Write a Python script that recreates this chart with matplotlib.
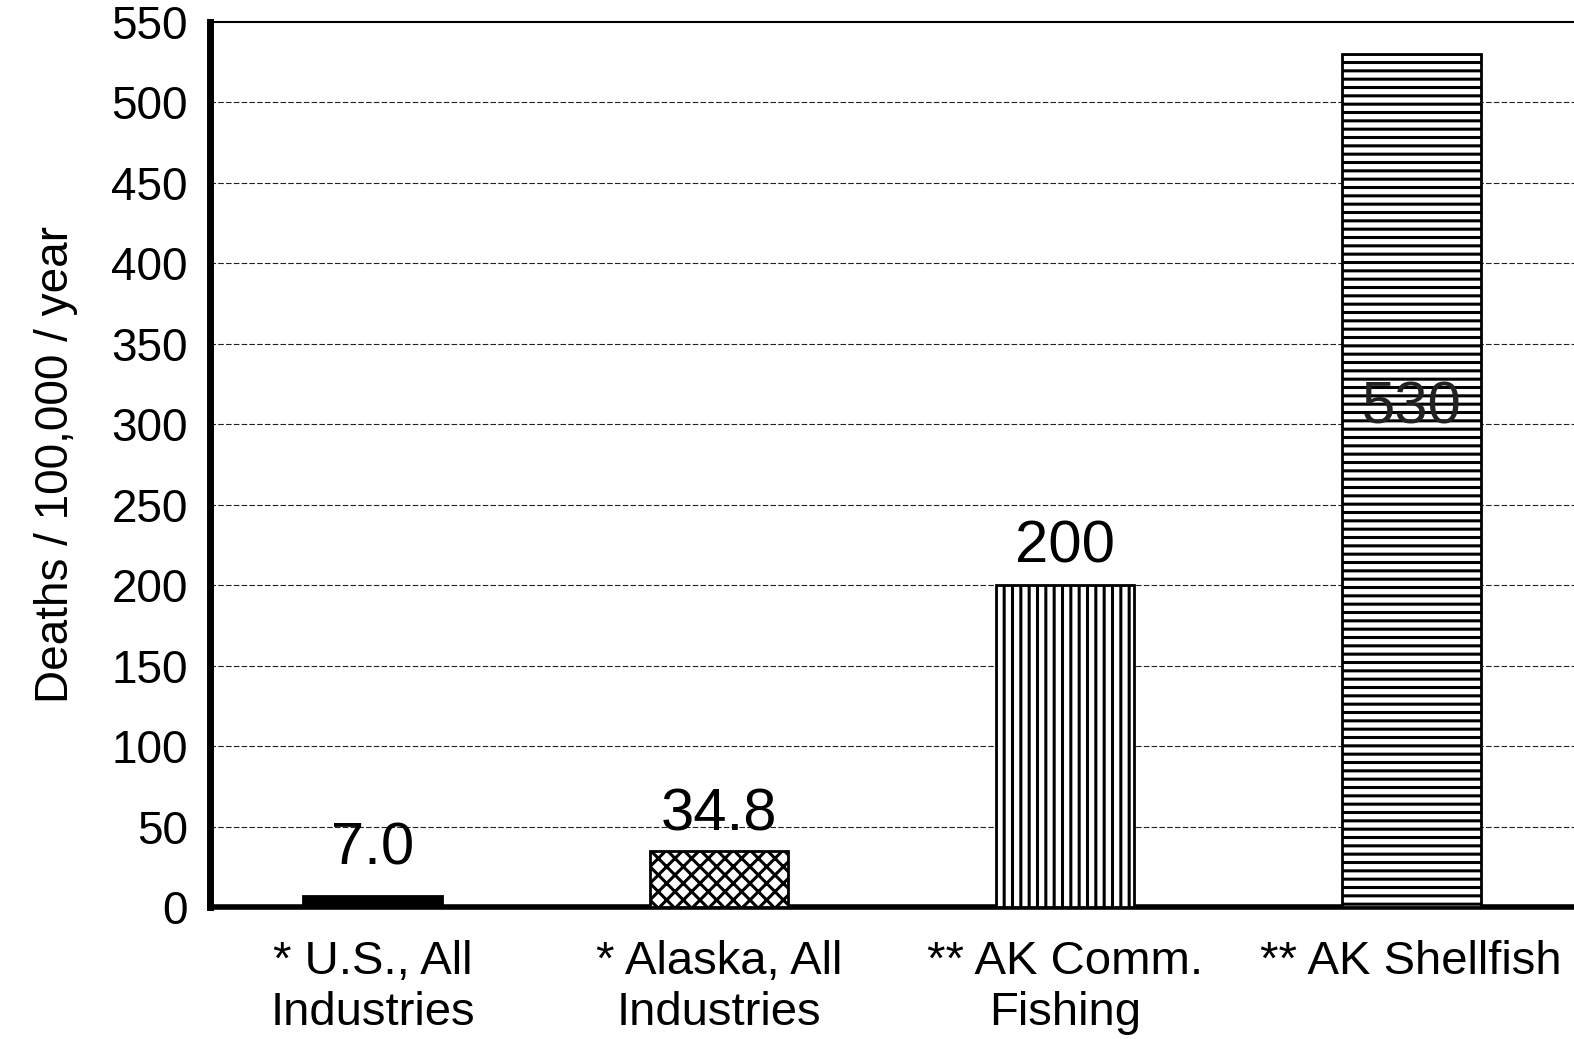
import numpy as np
import matplotlib
matplotlib.use("Agg")
from matplotlib import pyplot as plt

categories = ["* U.S., All\nIndustries", "* Alaska, All\nIndustries",
              "** AK Comm.\nFishing", "** AK Shellfish"]
rates = [7.0, 34.8, 200, 530]
value_labels = ["7.0", "34.8", "200", "530"]
hatches = ["", "xx", "||", "--"]
fills = ["black", "white", "white", "white"]
yticks = np.arange(0, 551, 50)

plt.rcParams['font.family'] = ['Liberation Sans', 'DejaVu Sans']
plt.rcParams['hatch.linewidth'] = 2.2

fig = plt.figure(figsize=(15.74, 10.39), dpi=100)
ax = fig.add_axes([0.1334, 0.127, 0.8666, 0.852])

x = np.arange(len(categories))
ax.bar(x, rates, width=0.4, color=fills, hatch=hatches, edgecolor="black",
       linewidth=2, zorder=3)

for ytick in yticks[1:-1]:
    ax.axhline(ytick, color="#222222", linestyle=(0, (5, 2)), linewidth=0.8, zorder=1)

# value labels
offsets = [14, 6, 8]
for i in range(3):
    ax.annotate(value_labels[i], (x[i], rates[i]), xytext=(0, offsets[i]),
                textcoords="offset points", ha="center", va="bottom",
                fontsize=43, zorder=5)
ax.text(x[3], 310, value_labels[3], ha="center", va="center", fontsize=43,
        color="#222222", zorder=5)

ax.set_xlim(-0.47, 3.47)
ax.set_ylim(0, 550)
ax.set_yticks(yticks)
ax.set_xticks(x)
ax.set_xticklabels(categories, fontsize=34, linespacing=1.2)
ax.tick_params(axis="y", labelsize=33, length=0, pad=16)
ax.tick_params(axis="x", length=0, pad=24)
ax.set_ylabel("Deaths / 100,000 / year", fontsize=33, labelpad=24)

ax.spines['right'].set_visible(False)
ax.spines['left'].set_linewidth(5)
ax.spines['bottom'].set_linewidth(4)
ax.spines['top'].set_linewidth(1.5)

plt.savefig("out.png", dpi=100)
